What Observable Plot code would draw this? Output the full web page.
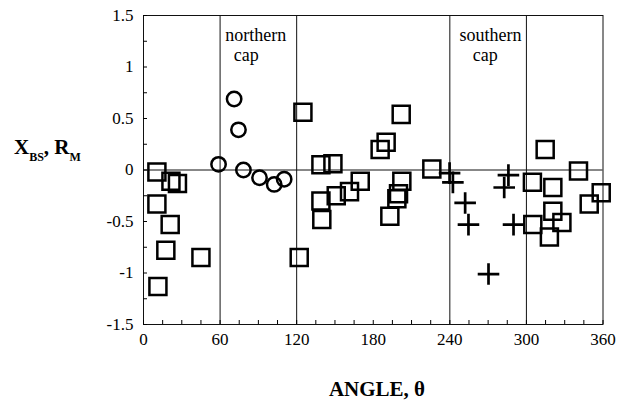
<!DOCTYPE html>
<html>
<head>
<meta charset="utf-8">
<script src="https://cdn.jsdelivr.net/npm/d3@7"></script>
<script src="https://cdn.jsdelivr.net/npm/@observablehq/plot@0.6"></script>
<style>
  html, body { margin: 0; padding: 0; background: #fff; }
  #chart svg { display: block; }
</style>
</head>
<body>
<div id="chart"></div>
<script>
// Squares (equatorial data)
const squareTheta = [10.5, 21.5, 26.6, 10.5, 20.9, 17.5, 45, 11.3,
  122, 124.9, 139, 148.4, 139, 139.7, 151, 161.4, 169.8,
  185.4, 190.1, 201.9, 193, 198.5, 199.8, 202.4, 225.9,
  304.7, 305, 314.7, 320.7, 320.7, 318, 327.8, 340.8, 349.2, 358.6];
const squareValue = [-0.02, -0.11, -0.13, -0.33, -0.53, -0.78, -0.85, -1.13,
  -0.85, 0.56, 0.05, 0.06, -0.30, -0.48, -0.25, -0.21, -0.11,
  0.20, 0.27, 0.54, -0.45, -0.28, -0.23, -0.11, 0.01,
  -0.12, -0.53, 0.20, -0.17, -0.40, -0.65, -0.51, -0.01, -0.33, -0.22];
// Circles (northern cap)
const circleTheta = [58.8, 71, 74.4, 78.3, 90.9, 102.4, 110.2];
const circleValue = [0.055, 0.69, 0.39, 0.0, -0.075, -0.14, -0.09];
// Crosses (southern cap)
const crossTheta = [239.8, 242.4, 252, 254.6, 270.3, 282.6, 285.9, 289.9];
const crossValue = [-0.03, -0.12, -0.32, -0.53, -1.01, -0.17, -0.05, -0.53];

const regionLines = [60, 120, 240, 300];
const xMajorTicks = [0, 60, 120, 180, 240, 300, 360];
const xMinorTicks = d3.range(0, 361, 15);
const yMajorTicks = [-1.5, -1, -0.5, 0, 0.5, 1, 1.5];
const yMinorTicks = d3.range(-1.5, 1.51, 0.25);
const capLabels = [
  {text: "northern", x: 88, y: 1.284},
  {text: "cap", x: 80.5, y: 1.087},
  {text: "southern", x: 271.9, y: 1.284},
  {text: "cap", x: 267.7, y: 1.087}
];

const squares = squareTheta.map((t, i) => ({theta: t, value: squareValue[i]}));
const circles = circleTheta.map((t, i) => ({theta: t, value: circleValue[i]}));
const crosses = crossTheta.map((t, i) => ({theta: t, value: crossValue[i]}));

const serif = 'Liberation Serif, Times New Roman, Times, Tinos, Nimbus Roman, Noto Serif, FreeSerif, DejaVu Serif, serif';

const plot = Plot.plot({
  width: 628,
  height: 403,
  marginLeft: 143,
  marginRight: 25.5,
  marginTop: 15,
  marginBottom: 79,
  style: {fontFamily: serif, fontSize: "17px", color: "#000", background: "#fff"},
  x: {domain: [0, 360], label: null},
  y: {domain: [-1.5, 1.5], label: null},
  marks: [
    Plot.ruleX(regionLines, {stroke: "#111", strokeWidth: 1}),
    Plot.ruleY([0], {stroke: "#111", strokeWidth: 1}),
    Plot.frame({stroke: "#111", strokeWidth: 1}),
    Plot.axisX({ticks: xMinorTicks, tickSize: -4, tickFormat: () => "", label: null, strokeWidth: 1}),
    Plot.axisX({ticks: xMajorTicks, tickSize: 0, tickPadding: 8, tickFormat: d => String(d), label: null, fontSize: 17}),
    Plot.axisY({ticks: yMinorTicks, tickSize: -4, tickFormat: () => "", label: null, strokeWidth: 1}),
    Plot.axisY({ticks: yMajorTicks, tickSize: 0, tickPadding: 10, tickFormat: d => String(d), label: null, fontSize: 17}),
    Plot.text(capLabels, {x: "x", y: "y", text: "text", fontSize: 18, lineAnchor: "bottom", textAnchor: "middle", dy: 3, fill: "#000"}),
    Plot.dot(squares, {x: "theta", y: "value", symbol: "square", r: 9.6, stroke: "#000", strokeWidth: 2.5, fill: "none"}),
    Plot.dot(circles, {x: "theta", y: "value", symbol: "circle", r: 7.2, stroke: "#000", strokeWidth: 2.5, fill: "none"}),
    Plot.dot(crosses, {x: "theta", y: "value", symbol: "plus", r: 7, stroke: "#000", strokeWidth: 2.7, fill: "none"})
  ]
});

const svg = d3.select(plot);
svg.selectAll("text").style("font-family", serif);
// Y axis title with subscripts
const yt = svg.append("text")
  .attr("x", 14).attr("y", 154)
  .attr("text-anchor", "start")
  .style("font-family", serif).attr("font-weight", "bold").attr("font-size", 21).attr("fill", "#000");
yt.append("tspan").text("X");
yt.append("tspan").attr("font-size", 12).attr("dy", 7).text("BS");
yt.append("tspan").attr("dy", -7).text(", R");
yt.append("tspan").attr("font-size", 12).attr("dy", 7).text("M");
// X axis title
svg.append("text")
  .attr("x", 377).attr("y", 396)
  .attr("text-anchor", "middle")
  .style("font-family", serif).attr("font-weight", "bold").attr("font-size", 21).attr("fill", "#000")
  .text("ANGLE, θ");

document.getElementById("chart").appendChild(plot);
</script>
</body>
</html>
